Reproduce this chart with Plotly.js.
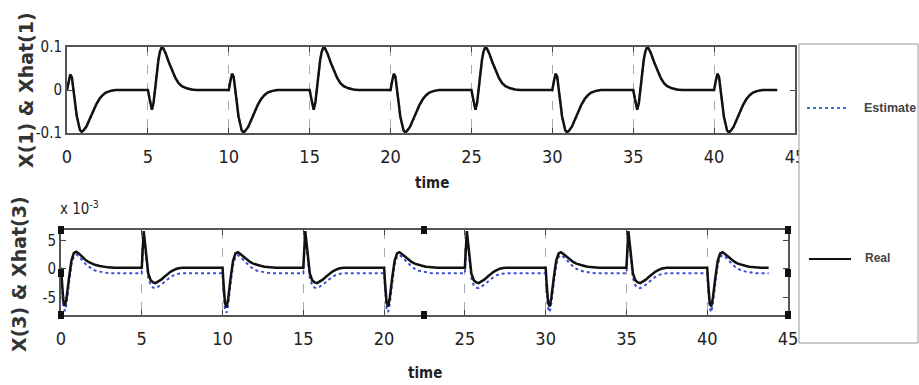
<!DOCTYPE html>
<html>
<head>
<meta charset="utf-8">
<script src="https://cdn.plot.ly/plotly-3.0.1.min.js"></script>
<style>html,body{margin:0;padding:0;background:#fff;}#chart{width:919px;height:385px;}</style>
</head>
<body>
<div id="chart"></div>
<script>
// ---------- DATA ----------
// Top panel: X(1) and Xhat(1) vs time
const tTop = [
  0,0.1,0.2,0.3,0.4,0.5,0.6,0.7,0.8,0.9,1.0,1.2,1.4,1.6,1.8,2.0,2.2,2.4,2.7,3.0,
  5,5.1,5.2,5.25,5.35,5.45,5.55,5.65,5.75,5.85,5.95,6.1,6.3,6.5,6.7,6.9,7.1,7.4,7.7,8.0,
  10,10.1,10.2,10.3,10.4,10.5,10.6,10.7,10.8,10.9,11.0,11.2,11.4,11.6,11.8,12.0,12.2,12.4,12.7,13.0,
  15,15.1,15.2,15.25,15.35,15.45,15.55,15.65,15.75,15.85,15.95,16.1,16.3,16.5,16.7,16.9,17.1,17.4,17.7,18.0,
  20,20.1,20.2,20.3,20.4,20.5,20.6,20.7,20.8,20.9,21.0,21.2,21.4,21.6,21.8,22.0,22.2,22.4,22.7,23.0,
  25,25.1,25.2,25.25,25.35,25.45,25.55,25.65,25.75,25.85,25.95,26.1,26.3,26.5,26.7,26.9,27.1,27.4,27.7,28.0,
  30,30.1,30.2,30.3,30.4,30.5,30.6,30.7,30.8,30.9,31.0,31.2,31.4,31.6,31.8,32.0,32.2,32.4,32.7,33.0,
  35,35.1,35.2,35.25,35.35,35.45,35.55,35.65,35.75,35.85,35.95,36.1,36.3,36.5,36.7,36.9,37.1,37.4,37.7,38.0,
  40,40.1,40.2,40.3,40.4,40.5,40.6,40.7,40.8,40.9,41.0,41.2,41.4,41.6,41.8,42.0,42.2,42.4,42.7,43.0,
  43.9
];
const x1 = [
  0,0.02,0.036,0.03,0.005,-0.03,-0.06,-0.08,-0.093,-0.097,-0.095,-0.085,-0.068,-0.05,-0.034,-0.021,-0.012,-0.006,-0.002,0,
  0,-0.02,-0.042,-0.046,-0.03,0.005,0.04,0.07,0.09,0.099,0.097,0.085,0.064,0.044,0.028,0.016,0.009,0.004,0.001,0,
  0,0.021,0.038,0.031,0.006,-0.03,-0.061,-0.081,-0.094,-0.098,-0.096,-0.086,-0.068,-0.05,-0.034,-0.021,-0.012,-0.006,-0.002,0,
  0,-0.02,-0.043,-0.046,-0.03,0.005,0.04,0.07,0.09,0.099,0.097,0.085,0.064,0.044,0.028,0.016,0.009,0.004,0.001,0,
  0,0.021,0.038,0.031,0.006,-0.03,-0.061,-0.081,-0.094,-0.098,-0.096,-0.086,-0.068,-0.05,-0.034,-0.021,-0.012,-0.006,-0.002,0,
  0,-0.02,-0.043,-0.046,-0.03,0.005,0.04,0.07,0.09,0.099,0.097,0.085,0.064,0.044,0.028,0.016,0.009,0.004,0.001,0,
  0,0.021,0.038,0.031,0.006,-0.03,-0.061,-0.081,-0.094,-0.098,-0.096,-0.086,-0.068,-0.05,-0.034,-0.021,-0.012,-0.006,-0.002,0,
  0,-0.02,-0.043,-0.046,-0.03,0.005,0.04,0.07,0.09,0.099,0.097,0.085,0.064,0.044,0.028,0.016,0.009,0.004,0.001,0,
  0,0.021,0.038,0.031,0.006,-0.03,-0.061,-0.081,-0.094,-0.098,-0.096,-0.086,-0.068,-0.05,-0.034,-0.021,-0.012,-0.006,-0.002,0,
  0
];
const xhat1 = [
  0,0.02,0.035,0.03,0.005,-0.03,-0.06,-0.08,-0.093,-0.097,-0.095,-0.085,-0.068,-0.05,-0.034,-0.021,-0.012,-0.006,-0.002,0,
  0,-0.02,-0.042,-0.046,-0.03,0.005,0.04,0.07,0.09,0.098,0.097,0.085,0.064,0.044,0.028,0.016,0.009,0.004,0.001,0,
  0,0.021,0.037,0.031,0.006,-0.03,-0.061,-0.081,-0.094,-0.097,-0.096,-0.086,-0.068,-0.05,-0.034,-0.021,-0.012,-0.006,-0.002,0,
  0,-0.02,-0.043,-0.046,-0.03,0.005,0.04,0.07,0.09,0.098,0.097,0.085,0.064,0.044,0.028,0.016,0.009,0.004,0.001,0,
  0,0.021,0.037,0.031,0.006,-0.03,-0.061,-0.081,-0.094,-0.097,-0.096,-0.086,-0.068,-0.05,-0.034,-0.021,-0.012,-0.006,-0.002,0,
  0,-0.02,-0.043,-0.046,-0.03,0.005,0.04,0.07,0.09,0.098,0.097,0.085,0.064,0.044,0.028,0.016,0.009,0.004,0.001,0,
  0,0.021,0.037,0.031,0.006,-0.03,-0.061,-0.081,-0.094,-0.097,-0.096,-0.086,-0.068,-0.05,-0.034,-0.021,-0.012,-0.006,-0.002,0,
  0,-0.02,-0.043,-0.046,-0.03,0.005,0.04,0.07,0.09,0.098,0.097,0.085,0.064,0.044,0.028,0.016,0.009,0.004,0.001,0,
  0,0.021,0.037,0.031,0.006,-0.03,-0.061,-0.081,-0.094,-0.097,-0.096,-0.086,-0.068,-0.05,-0.034,-0.021,-0.012,-0.006,-0.002,0,
  0
];

// Bottom panel: X(3) and Xhat(3) vs time (values in units of 1e-3)
const tBot = [
  0,0.05,0.15,0.25,0.35,0.5,0.65,0.8,0.95,1.1,1.3,1.5,1.7,1.9,2.1,2.4,2.6,2.9,3.3,
  5,5.05,5.12,5.2,5.3,5.4,5.55,5.7,5.85,6.0,6.2,6.4,6.6,6.8,7.0,7.2,7.5,
  10,10.05,10.15,10.25,10.35,10.5,10.65,10.8,10.95,11.1,11.3,11.5,11.7,11.9,12.1,12.4,12.6,12.9,13.3,
  15,15.05,15.12,15.2,15.3,15.4,15.55,15.7,15.85,16.0,16.2,16.4,16.6,16.8,17.0,17.2,17.5,
  20,20.05,20.15,20.25,20.35,20.5,20.65,20.8,20.95,21.1,21.3,21.5,21.7,21.9,22.1,22.4,22.6,22.9,23.3,
  25,25.05,25.12,25.2,25.3,25.4,25.55,25.7,25.85,26.0,26.2,26.4,26.6,26.8,27.0,27.2,27.5,
  30,30.05,30.15,30.25,30.35,30.5,30.65,30.8,30.95,31.1,31.3,31.5,31.7,31.9,32.1,32.4,32.6,32.9,33.3,
  35,35.05,35.12,35.2,35.3,35.4,35.55,35.7,35.85,36.0,36.2,36.4,36.6,36.8,37.0,37.2,37.5,
  40,40.05,40.15,40.25,40.35,40.5,40.65,40.8,40.95,41.1,41.3,41.5,41.7,41.9,42.1,42.4,42.6,42.9,43.3,
  43.8
];
const x3 = [
  0.2,-2,-5.8,-6.5,-5,-1.5,1.5,2.8,3.0,2.7,2.1,1.6,1.2,0.9,0.7,0.5,0.35,0.25,0.2,
  0.2,3,6.6,4.5,1.5,-0.8,-2.0,-2.4,-2.5,-2.3,-1.9,-1.4,-0.9,-0.5,-0.2,0.05,0.2,
  0.2,-2.1,-6.0,-6.8,-5.2,-1.6,1.4,2.7,2.9,2.6,2.1,1.6,1.2,0.9,0.7,0.5,0.35,0.25,0.2,
  0.2,3,6.6,4.5,1.5,-0.8,-2.0,-2.4,-2.5,-2.3,-1.9,-1.4,-0.9,-0.5,-0.2,0.05,0.2,
  0.2,-2.1,-5.9,-6.6,-5.1,-1.6,1.4,2.7,2.9,2.6,2.1,1.6,1.2,0.9,0.7,0.5,0.35,0.25,0.2,
  0.2,3,6.6,4.5,1.5,-0.8,-2.0,-2.4,-2.5,-2.3,-1.9,-1.4,-0.9,-0.5,-0.2,0.05,0.2,
  0.2,-2.1,-5.9,-6.6,-5.1,-1.6,1.4,2.7,2.9,2.6,2.1,1.6,1.2,0.9,0.7,0.5,0.35,0.25,0.2,
  0.2,3,6.6,4.5,1.5,-0.8,-2.0,-2.4,-2.5,-2.3,-1.9,-1.4,-0.9,-0.5,-0.2,0.05,0.2,
  0.2,-2.1,-5.9,-6.6,-5.1,-1.6,1.4,2.7,2.9,2.6,2.1,1.6,1.2,0.9,0.7,0.5,0.35,0.25,0.2,
  0.2
];
const xhat3 = [
  -0.8,-3,-6.8,-7.4,-6,-2.5,0.8,2.2,2.5,2.2,1.5,0.9,0.4,0.0,-0.3,-0.5,-0.65,-0.75,-0.8,
  -0.8,2.5,6.3,4.0,0.8,-1.6,-2.9,-3.3,-3.4,-3.2,-2.8,-2.3,-1.8,-1.4,-1.1,-0.9,-0.8,
  -0.8,-3.1,-7.0,-7.7,-6.2,-2.6,0.7,2.1,2.4,2.1,1.5,0.9,0.4,0.0,-0.3,-0.5,-0.65,-0.75,-0.8,
  -0.8,2.5,6.3,4.0,0.8,-1.6,-2.9,-3.3,-3.4,-3.2,-2.8,-2.3,-1.8,-1.4,-1.1,-0.9,-0.8,
  -0.8,-3.1,-6.9,-7.6,-6.1,-2.6,0.7,2.1,2.4,2.1,1.5,0.9,0.4,0.0,-0.3,-0.5,-0.65,-0.75,-0.8,
  -0.8,2.5,6.3,4.0,0.8,-1.6,-2.9,-3.3,-3.4,-3.2,-2.8,-2.3,-1.8,-1.4,-1.1,-0.9,-0.8,
  -0.8,-3.1,-6.9,-7.6,-6.1,-2.6,0.7,2.1,2.4,2.1,1.5,0.9,0.4,0.0,-0.3,-0.5,-0.65,-0.75,-0.8,
  -0.8,2.5,6.3,4.0,0.8,-1.6,-2.9,-3.3,-3.4,-3.2,-2.8,-2.3,-1.8,-1.4,-1.1,-0.9,-0.8,
  -0.8,-3.1,-6.9,-7.6,-6.1,-2.6,0.7,2.1,2.4,2.1,1.5,0.9,0.4,0.0,-0.3,-0.5,-0.65,-0.75,-0.8,
  -0.8
];

const xTickVals = [0,5,10,15,20,25,30,35,40,45];
const xTickText = ['0','5','10','15','20','25','30','35','40','45'];
const y1TickVals = [-0.1,0,0.1];
const y1TickText = ['-0.1','0','0.1'];
const y3TickVals = [-5,0,5];
const y3TickText = ['-5','0','5'];
const legendLabels = ['Estimate','Real'];

// ---------- STYLE / LAYOUT ----------
const W = 919, H = 385;
const px = v => v / W;
const py = v => 1 - v / H;
const narrow = 'Liberation Sans Narrow, DejaVu Sans Condensed, Arial Narrow, Liberation Sans, Arial, sans-serif';
const tickFont = {family: narrow, size: 18, color: '#222'};
const yTickFont = {family: narrow, size: 15, color: '#222'};
const realColor = '#111111';
const estColor = '#3a4fd6';

const traces = [
  {x: tTop, y: xhat1, xaxis: 'x', yaxis: 'y', mode: 'lines', name: legendLabels[0],
   line: {color: estColor, width: 2, dash: 'dot'}, showlegend: false},
  {x: tTop, y: x1, xaxis: 'x', yaxis: 'y', mode: 'lines', name: legendLabels[1],
   line: {color: realColor, width: 2.5}, showlegend: false},
  {x: tBot, y: xhat3, xaxis: 'x2', yaxis: 'y2', mode: 'lines', name: legendLabels[0],
   line: {color: estColor, width: 2, dash: 'dot'}, showlegend: false},
  {x: tBot, y: x3, xaxis: 'x2', yaxis: 'y2', mode: 'lines', name: legendLabels[1],
   line: {color: realColor, width: 2.5}, showlegend: false}
];

function xAxis(domain, anchor) {
  return {domain: domain, anchor: anchor, range: [0, 45], tickvals: xTickVals, ticktext: xTickText,
    ticks: 'inside', ticklen: 5, tickcolor: '#444', mirror: 'ticks', showline: true, linecolor: '#555', linewidth: 2,
    showgrid: true, gridcolor: '#aaa', griddash: 'dash', gridwidth: 1, zeroline: false,
    tickfont: tickFont, ticklabelstandoff: 6, fixedrange: true};
}
function yAxis(domain, anchor, range, tv, tt) {
  return {domain: domain, anchor: anchor, range: range, tickvals: tv, ticktext: tt,
    ticks: 'inside', ticklen: 5, tickcolor: '#444', mirror: 'ticks', showline: true, linecolor: '#555', linewidth: 2,
    showgrid: false, zeroline: false, tickfont: yTickFont, ticklabelstandoff: 0, fixedrange: true};
}

const handles = [[61,230],[424,230],[788,230],[61,273],[788,273],[61,315],[424,315],[788,315]];
const shapes = handles.map(([hx, hy]) => ({type: 'rect', xref: 'paper', yref: 'paper',
  x0: px(hx - 3), x1: px(hx + 3), y0: py(hy + 4), y1: py(hy - 4), fillcolor: '#111', line: {width: 0}}));
// legend box and symbols
shapes.push({type: 'rect', xref: 'paper', yref: 'paper', x0: px(799), x1: px(918), y0: py(343), y1: py(44),
  fillcolor: '#fff', line: {color: '#999', width: 1}});
shapes.push({type: 'line', xref: 'paper', yref: 'paper', x0: px(807), x1: px(847), y0: py(108), y1: py(108),
  line: {color: '#3f6fd0', width: 2, dash: 'dot'}});
shapes.push({type: 'line', xref: 'paper', yref: 'paper', x0: px(809), x1: px(851), y0: py(259), y1: py(259),
  line: {color: '#111', width: 2}});

const labFont = {family: narrow, size: 15, color: '#222'};
const yLabFont = {family: 'DejaVu Sans, Liberation Sans, Arial, sans-serif', size: 19, color: '#333'};
const annotations = [
  {text: '<b>time</b>', xref: 'paper', yref: 'paper', x: px(432), y: py(183), showarrow: false, font: labFont, xanchor: 'center', yanchor: 'middle'},
  {text: '<b>time</b>', xref: 'paper', yref: 'paper', x: px(425), y: py(373), showarrow: false, font: labFont, xanchor: 'center', yanchor: 'middle'},
  {text: '<b>X(1) &amp; Xhat(1)</b>', xref: 'paper', yref: 'paper', x: px(26), y: py(90), showarrow: false, textangle: -90,
   font: yLabFont, xanchor: 'center', yanchor: 'middle'},
  {text: '<b>X(3) &amp; Xhat(3)</b>', xref: 'paper', yref: 'paper', x: px(19), y: py(274), showarrow: false, textangle: -90,
   font: yLabFont, xanchor: 'center', yanchor: 'middle'},
  {text: 'x 10<sup>-3</sup>', xref: 'paper', yref: 'paper', x: px(58), y: py(208), showarrow: false,
   font: {family: narrow, size: 15, color: '#222'}, xanchor: 'left', yanchor: 'middle'},
  {text: '<b>' + legendLabels[0] + '</b>', xref: 'paper', yref: 'paper', x: px(862), y: py(108), showarrow: false,
   font: {family: 'Liberation Sans, Arial, sans-serif', size: 12.5, color: '#444'}, xanchor: 'left', yanchor: 'middle'},
  {text: '<b>' + legendLabels[1] + '</b>', xref: 'paper', yref: 'paper', x: px(863), y: py(258), showarrow: false,
   font: {family: 'Liberation Sans, Arial, sans-serif', size: 12, color: '#444'}, xanchor: 'left', yanchor: 'middle'}
];

const layout = {
  width: W, height: H, margin: {l: 0, r: 0, t: 0, b: 0},
  paper_bgcolor: '#fff', plot_bgcolor: '#fff', showlegend: false,
  xaxis: xAxis([px(67), px(795)], 'y'),
  yaxis: yAxis([py(133), py(47)], 'x', [-0.1, 0.1], y1TickVals, y1TickText),
  xaxis2: xAxis([px(61), px(788)], 'y2'),
  yaxis2: yAxis([py(315), py(230)], 'x2', [-8.1, 6.8], y3TickVals, y3TickText),
  shapes: shapes, annotations: annotations
};

Plotly.newPlot('chart', traces, layout, {staticPlot: true, displayModeBar: false});
</script>
</body>
</html>
